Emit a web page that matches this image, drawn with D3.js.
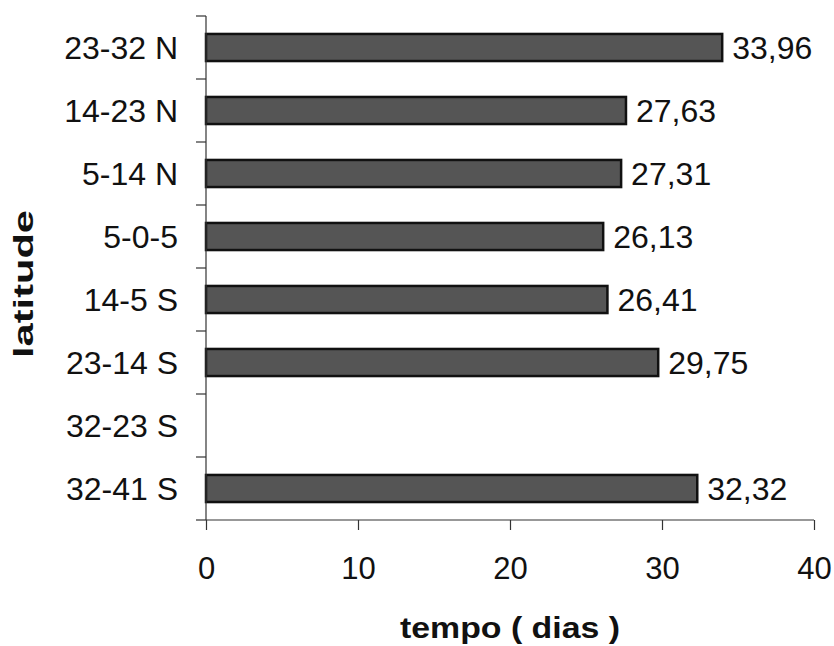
<!DOCTYPE html>
<html>
<head>
<meta charset="utf-8">
<script src="https://cdn.jsdelivr.net/npm/d3@7"></script>
<style>
  body { margin: 0; background: #fff; }
  svg text { font-family: "Liberation Sans", Arial, sans-serif; fill: #111; }
  .axis path, .axis line { stroke: #333; stroke-width: 1.2px; }
</style>
</head>
<body>
<div id="canvas"></div>
<script>
// data
var categories = ['23-32 N','14-23 N','5-14 N','5-0-5','14-5 S','23-14 S','32-23 S','32-41 S'];
var values = [33.96, 27.63, 27.31, 26.13, 26.41, 29.75, null, 32.32];
var xTicks = [0, 10, 20, 30, 40];

var W = 834, H = 646;
var margin = {t:16, r:20, b:126, l:206};
var width = W - margin.l - margin.r,
    height = H - margin.t - margin.b;

var svg = d3.select('#canvas')
    .append('svg')
    .attr('width', W)
    .attr('height', H);

var plot = svg.append('g')
    .attr('transform','translate('+margin.l+','+margin.t+')');

var x = d3.scaleLinear().domain([0,40]).range([0,608]);
var y = d3.scaleBand().domain(categories).range([0,height]).paddingInner(0.57).paddingOuter(0.285);
var yb = d3.scaleBand().domain(categories).range([0,height]);

// bars
var rows = categories.map(function(c,i){ return {cat:c, v:values[i]}; })
    .filter(function(d){ return d.v != null; });

plot.selectAll('rect.bar')
    .data(rows)
    .enter().append('rect')
    .attr('class','bar')
    .attr('x', x(0))
    .attr('y', function(d){ return y(d.cat); })
    .attr('width', function(d){ return x(d.v); })
    .attr('height', y.bandwidth())
    .style('fill','#555')
    .style('stroke','#111')
    .style('stroke-width','2.5px');

// value labels
plot.selectAll('text.val')
    .data(rows)
    .enter().append('text')
    .attr('class','val')
    .attr('x', function(d){ return x(d.v) + 10; })
    .attr('y', function(d){ return y(d.cat) + y.bandwidth()/2; })
    .attr('dy','0.36em')
    .style('font-size','32px')
    .text(function(d){ return d.v.toFixed(2).replace('.', ','); });

// y axis: line, ticks at band boundaries, labels
plot.append('line').attr('class','axisline')
    .attr('x1',0).attr('x2',0).attr('y1',0).attr('y2',height)
    .style('stroke','#333').style('stroke-width','1.2px');
var bounds = categories.map(function(c){ return yb(c); }).concat([height]);
plot.selectAll('line.ytick')
    .data(bounds)
    .enter().append('line')
    .attr('class','ytick')
    .attr('x1',-10).attr('x2',0)
    .attr('y1',function(d){ return d; }).attr('y2',function(d){ return d; })
    .style('stroke','#333').style('stroke-width','1.2px');
plot.selectAll('text.ylab')
    .data(categories)
    .enter().append('text')
    .attr('class','ylab')
    .attr('x',-28)
    .attr('y',function(d){ return yb(d) + yb.bandwidth()/2; })
    .attr('dy','0.36em')
    .attr('text-anchor','end')
    .style('font-size','32px')
    .text(function(d){ return d; });

// x axis
var xAxis = plot.append('g').attr('class','axis')
    .attr('transform','translate(0,'+height+')')
    .call(d3.axisBottom(x).tickValues(xTicks).tickSize(10).tickPadding(27).tickSizeOuter(0));
xAxis.select('.domain').attr('d','M0,0H'+x(40));
xAxis.selectAll('text')
    .style('font-size','31px')
    .style('font-family','"Liberation Sans", Arial, sans-serif')
    .style('fill','#111')
    .attr('dy','0.71em');

// axis titles
svg.append('text')
    .attr('x', 510)
    .attr('y', 638)
    .attr('text-anchor','middle')
    .style('font-size','30px')
    .style('font-weight','bold')
    .attr('textLength',220)
    .attr('lengthAdjust','spacingAndGlyphs')
    .text('tempo ( dias )');

svg.append('text')
    .attr('transform','translate(33,284) rotate(-90)')
    .attr('text-anchor','middle')
    .style('font-size','28px')
    .style('font-weight','bold')
    .attr('textLength',148)
    .attr('lengthAdjust','spacingAndGlyphs')
    .text('latitude');
</script>
</body>
</html>
